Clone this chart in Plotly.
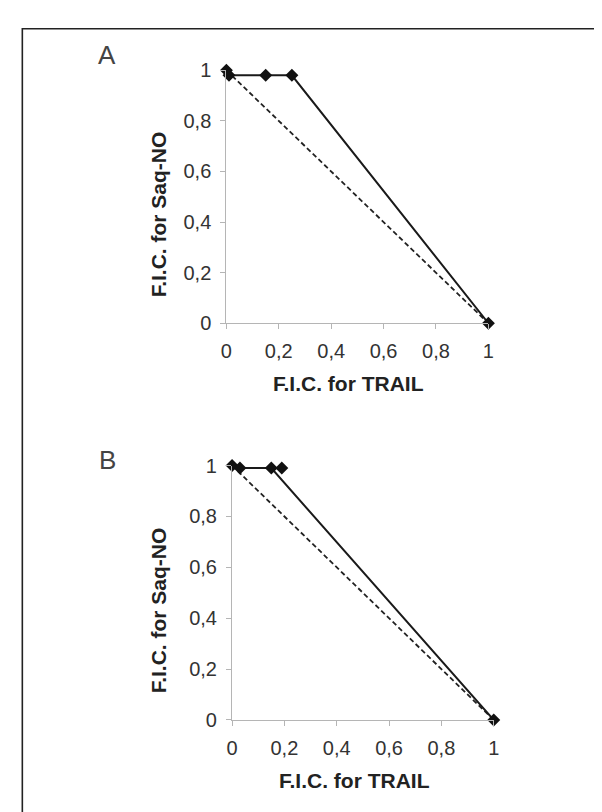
import plotly.graph_objects as go

# ---- data ----
tick_vals = [0, 0.2, 0.4, 0.6, 0.8, 1]
tick_text = ["0", "0,2", "0,4", "0,6", "0,8", "1"]

panel_labels = ["A", "B"]
x_title = "F.I.C. for TRAIL"
y_title = "F.I.C. for Saq-NO"

# Panel A isobologram
a_trail = [0, 0.01, 0.15, 0.25, 1]
a_saq = [1, 0.98, 0.98, 0.98, 0]

# Panel B isobologram
b_trail = [0, 0.03, 0.15, 1]
b_saq = [1, 0.99, 0.99, 0]
b_extra_trail = [0.19]
b_extra_saq = [0.99]

# line of additivity
add_trail = [0, 1]
add_saq = [1, 0]

W, H = 602, 812
FONT = "Liberation Sans, Arial, sans-serif"

fig = go.Figure()

def add_panel(xs, ys, xa, ya, extra=None):
    fig.add_trace(go.Scatter(x=add_trail, y=add_saq, mode="lines",
                             line=dict(color="#222", width=1.8, dash="5px,3px"),
                             xaxis=xa, yaxis=ya, showlegend=False, cliponaxis=False,
                             hoverinfo="skip"))
    fig.add_trace(go.Scatter(x=xs, y=ys, mode="lines+markers",
                             line=dict(color="#1a1a1a", width=2),
                             marker=dict(symbol="diamond", size=10, color="#111"),
                             xaxis=xa, yaxis=ya, showlegend=False, cliponaxis=False))
    if extra:
        fig.add_trace(go.Scatter(x=extra[0], y=extra[1], mode="markers",
                                 marker=dict(symbol="diamond", size=10, color="#111"),
                                 xaxis=xa, yaxis=ya, showlegend=False, cliponaxis=False))

add_panel(a_trail, a_saq, "x", "y")
add_panel(b_trail, b_saq, "x2", "y2", extra=(b_extra_trail, b_extra_saq))

def px_x(p):
    return p / W

def px_y(p):
    return 1 - p / H

axis_common = dict(
    range=[0, 1], tickvals=tick_vals, ticktext=tick_text,
    showgrid=False, zeroline=False, showline=True, linecolor="#b5b5b5", linewidth=1.2,
    ticks="outside", ticklen=5, tickcolor="#b5b5b5", tickwidth=1.2,
    tickfont=dict(family=FONT, size=20, color="#333"),
    ticklabelstandoff=5, fixedrange=True,
)

# panel geometry (pixels)
A = dict(x0=216.7, x1=484.0, y1=52.7, y0=312.7, label_y=37)
B = dict(x0=222.5, x1=489.5, y1=459.0, y0=720.5, label_y=453)

fig.update_layout(
    width=W, height=H,
    margin=dict(l=0, r=0, t=0, b=0),
    paper_bgcolor="white", plot_bgcolor="white",
    xaxis=dict(domain=[px_x(A["x0"]), px_x(A["x1"])], anchor="y", **axis_common),
    yaxis=dict(domain=[px_y(A["y0"]), px_y(A["y1"])], anchor="x", **axis_common),
    xaxis2=dict(domain=[px_x(B["x0"]), px_x(B["x1"])], anchor="y2", **axis_common),
    yaxis2=dict(domain=[px_y(B["y0"]), px_y(B["y1"])], anchor="x2", **axis_common),
)

title_font = dict(family=FONT, size=21, color="#222")
label_font = dict(family=FONT, size=26, color="#444")

annotations = []
for P, lab in ((A, panel_labels[0]), (B, panel_labels[1])):
    # x title
    annotations.append(dict(text="<b>%s</b>" % x_title, xref="paper", yref="paper",
                            x=px_x((P["x0"] + P["x1"]) / 2 - 9), y=px_y(P["y0"] + 62),
                            showarrow=False, font=title_font,
                            xanchor="center", yanchor="middle"))
    # y title
    annotations.append(dict(text="<b>%s</b>" % y_title, xref="paper", yref="paper",
                            x=px_x(147), y=px_y((P["y0"] + P["y1"]) / 2 + 18),
                            showarrow=False, font=title_font, textangle=-90,
                            xanchor="center", yanchor="middle"))
    # panel label
    annotations.append(dict(text=lab, xref="paper", yref="paper",
                            x=px_x(95), y=px_y(P["label_y"]),
                            showarrow=False, font=label_font,
                            xanchor="center", yanchor="middle"))

fig.update_layout(annotations=annotations)

# frame around the figure (left, top, right visible)
fig.add_shape(type="path", xref="paper", yref="paper",
              path="M %f,%f L %f,%f L %f,%f L %f,%f" % (
                  px_x(8.5), -0.05, px_x(8.5), px_y(10), px_x(599.5), px_y(10), px_x(599.5), -0.05),
              line=dict(color="#222", width=1.6))

fig.write_html("out.html")
